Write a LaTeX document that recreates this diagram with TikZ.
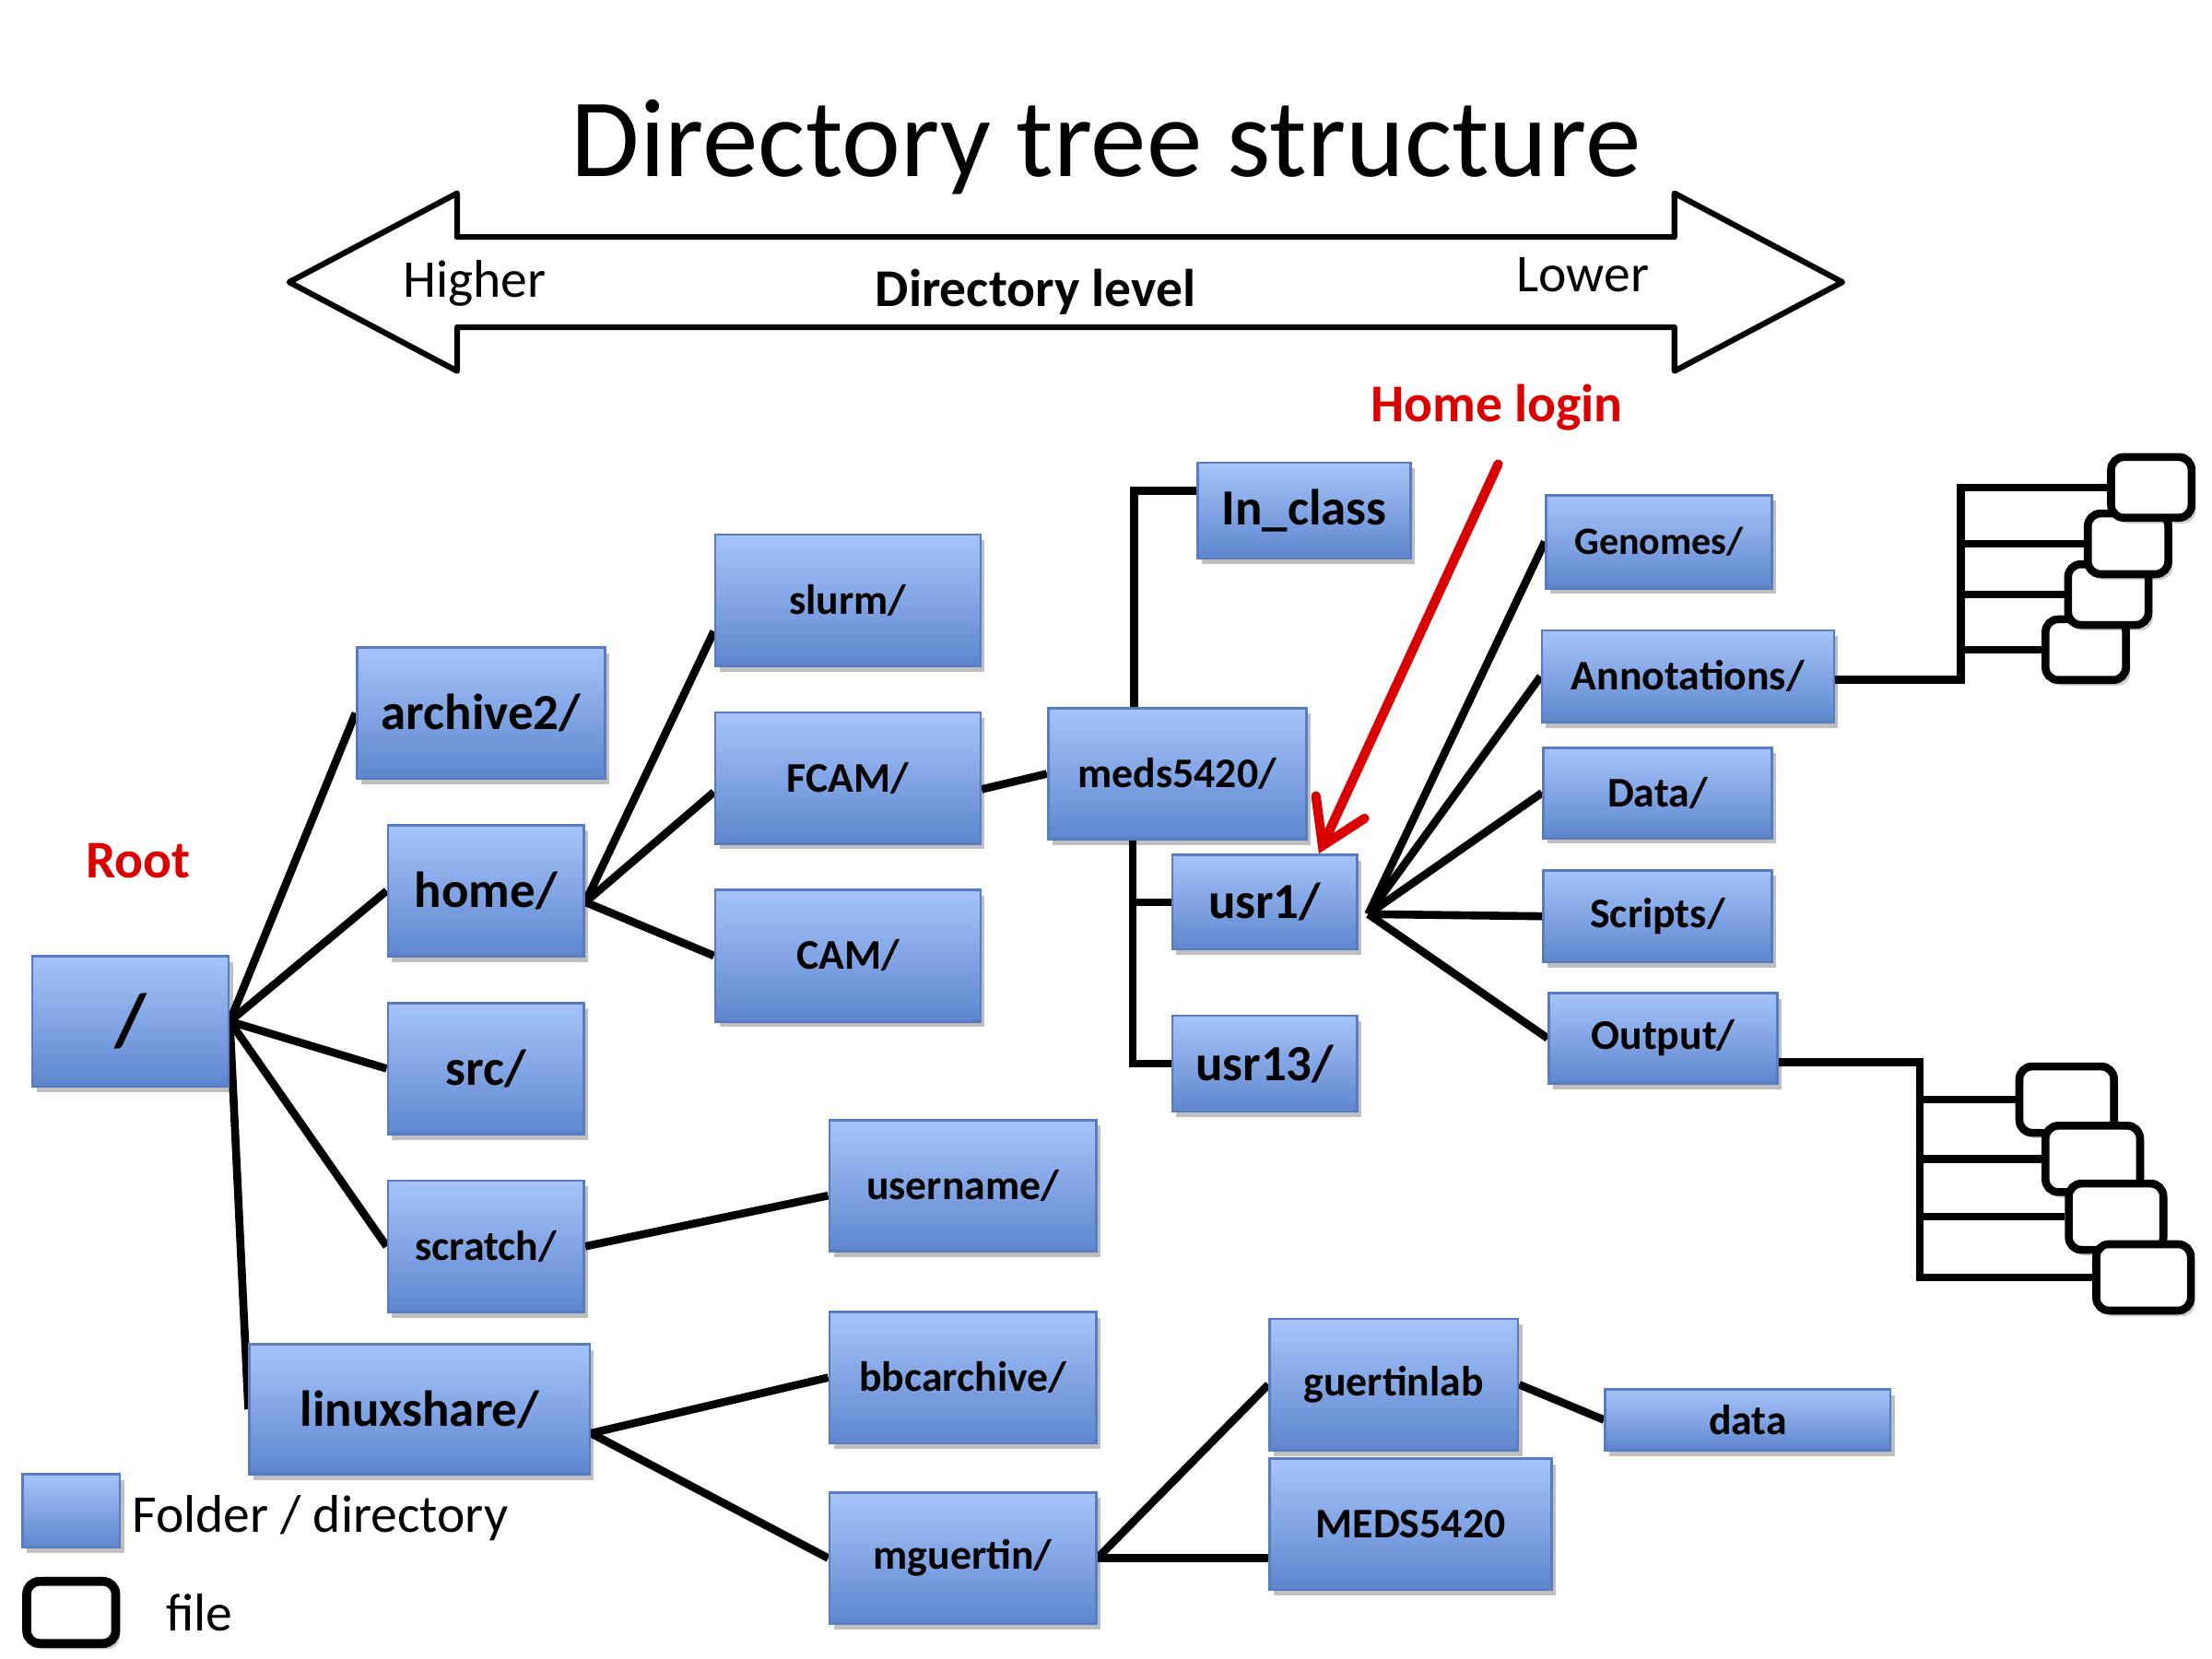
\documentclass[tikz,border=0pt]{standalone}
\usepackage{fontspec}
\setmainfont{Carlito}
\usetikzlibrary{arrows.meta,shadows,backgrounds,calc}
\definecolor{ftop}{RGB}{166,196,250}
\definecolor{fbot}{RGB}{94,134,206}
\definecolor{fborder}{RGB}{88,124,194}
\definecolor{redc}{RGB}{218,0,0}
\begin{document}
\begin{tikzpicture}[x=0.01cm,y=-0.01cm,
  folder/.style={draw=fborder, line width=0.5pt, top color=ftop, bottom color=fbot,
    inner sep=0pt, text=black, font=\bfseries\fontsize{8.5}{10}\selectfont,
    drop shadow={shadow xshift=0.03cm, shadow yshift=-0.04cm, opacity=0.25, fill=black}},
  bigfolder/.style={folder, font=\bfseries\fontsize{10.2}{12}\selectfont},
  filebox/.style={draw=black, line width=1.6pt, fill=white, rounded corners=0.09cm,
    inner sep=0pt, drop shadow={shadow xshift=0.03cm, shadow yshift=-0.04cm, opacity=0.2, fill=black}},
  fileA/.style={filebox, minimum width=0.57cm, minimum height=0.43cm},
  fileB/.style={filebox, minimum width=0.67cm, minimum height=0.47cm},
  conn/.style={line width=1.6pt, draw=black},
  lbl/.style={inner sep=0pt, font=\fontsize{10.7}{13}\selectfont},
  redlbl/.style={inner sep=0pt, text=redc, font=\bfseries\fontsize{10.7}{13}\selectfont}
]
\useasboundingbox (0,0) rectangle (1568,1176);

% title and level arrow
\node[anchor=base, inner sep=0pt, font=\fontsize{22.5}{27}\selectfont] (title) at (784,125) {Directory tree structure};
\draw[line width=1.15pt, line join=round, fill=white]
  (205,200) -- (324,137) -- (324,168) -- (1187,168) -- (1187,137) -- (1306,200)
  -- (1187,263) -- (1187,232) -- (324,232) -- (324,263) -- cycle;
\node[lbl, anchor=base] (higher) at (336.5,211) {Higher};
\node[lbl, anchor=base, font=\bfseries\fontsize{10.7}{13}\selectfont] (dirlvl) at (734,217) {Directory level};
\node[lbl, anchor=base] (lower) at (1122,207) {Lower};

% folders
\node[bigfolder, minimum width=1.39cm, minimum height=0.92cm, font=\bfseries\fontsize{15}{18}\selectfont] (root) at (92.5,724) {/};
\node[bigfolder, minimum width=1.76cm, minimum height=0.93cm] (archive) at (341,505.5) {archive2/};
\node[bigfolder, minimum width=1.39cm, minimum height=0.93cm] (home) at (344.5,631.5) {home/};
\node[bigfolder, minimum width=1.39cm, minimum height=0.93cm] (src) at (344.5,757.5) {src/};
\node[folder, minimum width=1.39cm, minimum height=0.93cm] (scratch) at (344.5,883.5) {scratch/};
\node[bigfolder, minimum width=2.41cm, minimum height=0.92cm] (linux) at (297.5,999) {linuxshare/};
\node[folder, minimum width=1.88cm, minimum height=0.93cm] (slurm) at (601,425.5) {slurm/};
\node[folder, minimum width=1.88cm, minimum height=0.93cm] (fcam) at (601,551.5) {FCAM/};
\node[folder, minimum width=1.88cm, minimum height=0.93cm] (cam) at (601,677.5) {CAM/};
\node[folder, minimum width=1.89cm, minimum height=0.93cm] (username) at (682.5,840.5) {username/};
\node[folder, minimum width=1.89cm, minimum height=0.93cm] (bbc) at (682.5,976.5) {bbcarchive/};
\node[folder, minimum width=1.89cm, minimum height=0.93cm] (mguertin) at (682.5,1104.5) {mguertin/};
\node[folder, minimum width=1.76cm, minimum height=0.93cm] (glab) at (988,981.5) {guertinlab};
\node[folder, minimum width=2.00cm, minimum height=0.93cm] (MEDS) at (1000,1080.5) {MEDS5420};
\node[folder, minimum width=2.02cm, minimum height=0.43cm] (data) at (1239,1006.5) {data};
\node[folder, minimum width=1.83cm, minimum height=0.93cm] (meds) at (834.5,548.5) {meds5420/};
\node[bigfolder, minimum width=1.51cm, minimum height=0.68cm] (inclass) at (924.5,362) {In\_class};
\node[bigfolder, minimum width=1.31cm, minimum height=0.67cm] (usr1) at (896.5,639.5) {usr1/};
\node[bigfolder, minimum width=1.31cm, minimum height=0.68cm] (usr13) at (896.5,754) {usr13/};
\node[folder, minimum width=1.60cm, minimum height=0.66cm, font=\bfseries\fontsize{7.8}{9}\selectfont] (genomes) at (1176,384) {Genomes/};
\node[folder, minimum width=2.07cm, minimum height=0.65cm] (annot) at (1196.5,479.5) {Annotations/};
\node[folder, minimum width=1.62cm, minimum height=0.64cm] (datad) at (1175,562) {Data/};
\node[folder, minimum width=1.62cm, minimum height=0.65cm] (scripts) at (1175,649.5) {Scripts/};
\node[folder, minimum width=1.62cm, minimum height=0.64cm] (output) at (1179,736) {Output/};

% files
\node[fileA] (t4) at (1478.5,460.5) {};
\node[fileA] (t3) at (1494.5,421.5) {};
\node[fileA] (t2) at (1508.5,385.5) {};
\node[fileA] (t1) at (1525,345.5) {};
\node[fileB] (b1) at (1465,779.5) {};
\node[fileB] (b2) at (1483.5,821.5) {};
\node[fileB] (b3) at (1500,862.5) {};
\node[fileB] (b4) at (1519.5,905.5) {};

% labels
\node[redlbl, anchor=base] (rootlbl) at (98,622) {Root};
\node[redlbl, anchor=base] (hltext) at (1061,299) {Home login};
\coordinate (hlstart) at (1062,329);

% legend
\node[folder, minimum width=0.69cm, minimum height=0.52cm] (legf) at (50.5,1071) {};
\node[filebox, line width=1.8pt, minimum width=0.63cm, minimum height=0.44cm] (legfile) at (50.5,1143) {};
\node[lbl, anchor=base west] (legft) at (93,1086) {Folder / directory};
\node[lbl, anchor=base west] (legfl) at (117,1156) {file};

% connectors
\begin{scope}[on background layer]
\draw[conn] (root.east) -- (archive.west);
\draw[conn] (root.east) -- (home.west);
\draw[conn] (root.east) -- (src.west);
\draw[conn] (root.east) -- (scratch.west);
\draw[conn] (root.east) -- (linux.west);
\coordinate (hj) at ([yshift=-0.08cm]home.east);
\draw[conn] (hj) -- ([yshift=-0.22cm]slurm.west);
\draw[conn] (hj) -- ([yshift=-0.1cm]fcam.west);
\draw[conn] (hj) -- (cam.west);
\draw[conn] ([yshift=-0.08cm]fcam.east) -- (meds.west);
\draw[conn] (scratch.east) -- ([yshift=-0.07cm]username.west);
\coordinate (lj) at ([yshift=-0.17cm]linux.east);
\draw[conn] (lj) -- (bbc.west);
\draw[conn] (lj) -- (mguertin.west);
\draw[conn] (mguertin.east) -- (glab.west);
\draw[conn] (mguertin.east) -- (mguertin.east -| MEDS.west);
\draw[conn] (glab.east) -- (data.west);
\draw[conn] ([xshift=-0.305cm]meds.north) |- ([yshift=0.14cm]inclass.west);
\coordinate (mb) at ([xshift=-0.315cm]meds.south);
\draw[conn] (mb) |- (usr13.west);
\draw[conn] (mb |- usr1.west) -- (usr1.west);
\coordinate (uj) at ([xshift=0.07cm,yshift=-0.085cm]usr1.east);
\draw[conn] (uj) -- (genomes.west);
\draw[conn] (uj) -- (annot.west);
\draw[conn] (uj) -- (datad.west);
\draw[conn] (uj) -- (scripts.west);
\draw[conn] (uj) -- (output.west);
\coordinate (aj) at (1390,345.5);
\draw[conn] ([yshift=-0.025cm]annot.east) -| (aj) -- (t1.west);
\draw[conn] (aj |- t2.west) -- (t2.west);
\draw[conn] (aj |- t3.west) -- (t3.west);
\draw[conn] (aj |- t4.west) -- (t4.west);
\coordinate (oj) at (1361,905.5);
\draw[conn] ([yshift=-0.17cm]output.east) -| (oj) -- (b4.west);
\draw[conn] (oj |- b1.west) -- (b1.west);
\draw[conn] (oj |- b2.west) -- (b2.west);
\draw[conn] (oj |- b3.west) -- (b3.west);
\end{scope}

% home login arrow
\draw[redc, line width=1.9pt, line cap=round,
  -{Straight Barb[length=0.3cm, width=0.38cm, line cap=round]}]
  (hlstart) -- ([xshift=-0.28cm]usr1.north east);
\end{tikzpicture}
\end{document}
